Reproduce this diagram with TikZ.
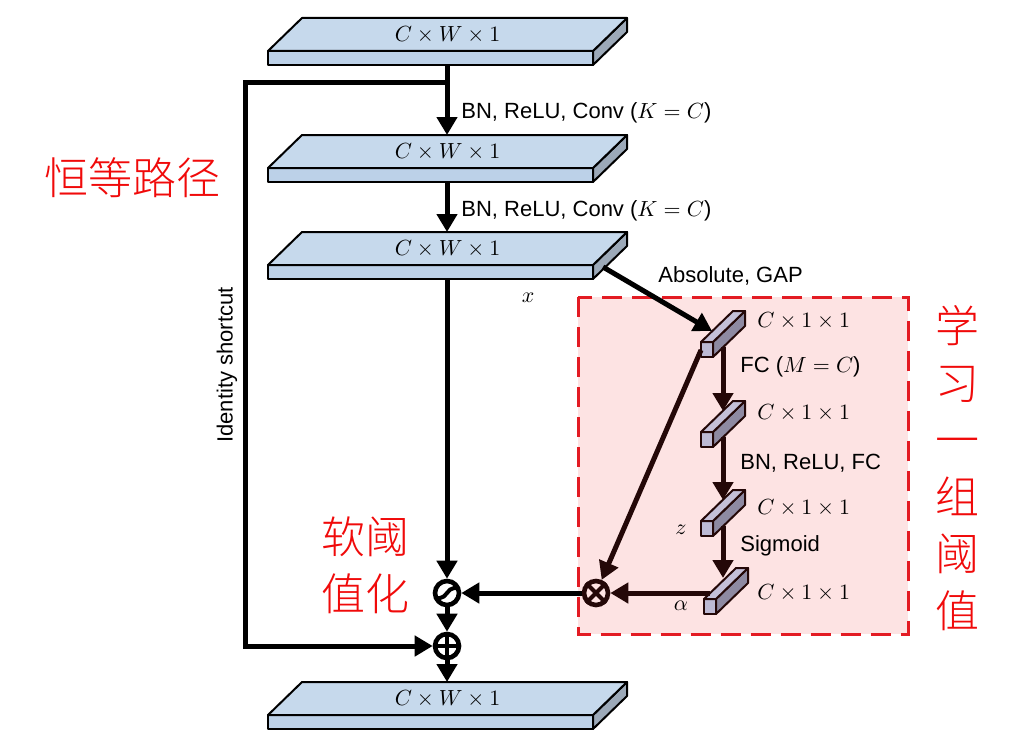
\documentclass[tikz,border=0pt]{standalone}
\usepackage[no-math]{fontspec}
\setmainfont{Liberation Sans}
\newfontfamily\cjk{Noto Sans CJK SC Light}
\usepackage{xcolor}
\usetikzlibrary{arrows.meta}

\definecolor{slabtopc}{HTML}{C6D9EC}
\definecolor{slabfrontc}{HTML}{BCD1E8}
\definecolor{slabsidec}{HTML}{9CA9B8}
\definecolor{bartopc}{HTML}{C4C0D8}
\definecolor{barfrontc}{HTML}{BDBAD4}
\definecolor{barsidec}{HTML}{8E8AA2}
\definecolor{barline}{HTML}{240808}
\definecolor{boxred}{HTML}{E31B23}
\definecolor{boxfill}{HTML}{FDE3E3}
\definecolor{cnred}{HTML}{F00A0A}

\tikzset{
  slabtop/.style={fill=slabtopc, draw=black, line width=1pt, line join=round},
  slabfront/.style={fill=slabfrontc, draw=black, line width=1pt, line join=round},
  slabside/.style={fill=slabsidec, draw=black, line width=1pt, line join=round},
  bartop/.style={fill=bartopc, draw=barline, line width=1pt, line join=round},
  barfront/.style={fill=barfrontc, draw=barline, line width=1pt, line join=round},
  barside/.style={fill=barsidec, draw=barline, line width=1pt, line join=round},
  flow/.style={line width=2.5pt, -{Triangle[length=9pt,width=10pt]}},
  op/.style={circle, draw, line width=2.3pt, minimum size=12pt, inner sep=0pt},
  lbl/.style={font=\fontsize{11}{13}\selectfont, anchor=west, inner sep=0pt},
  dim/.style={font=\fontsize{11}{13}\selectfont},
  cn/.style={text=cnred, font=\cjk\fontsize{22}{28.5}\selectfont, align=center},
}

% feature map slab: name, front top-left corner
\newcommand{\featslab}[3]{%
  \begin{scope}[shift={(#2,#3)}]
    \filldraw[slabside] (325,0) -- (359,-33) -- (359,-19) -- (325,14) -- cycle;
    \filldraw[slabfront] (0,0) rectangle (325,14);
    \filldraw[slabtop] (0,0) -- (325,0) -- (359,-33) -- (34,-33) -- cycle;
    \node[dim] (#1) at (179.5,-16.5) {$C\times W\times 1$};
    \coordinate (#1in) at (179,-33);
    \coordinate (#1out) at (179,14);
  \end{scope}}

% channel vector bar: name, front top-left corner
\newcommand{\featbar}[3]{%
  \begin{scope}[shift={(#2,#3)}]
    \filldraw[barside] (12,0) -- (44,-31) -- (44,-16) -- (12,15) -- cycle;
    \filldraw[barfront] (0,0) rectangle (12,15);
    \filldraw[bartop] (0,0) -- (12,0) -- (44,-31) -- (32,-31) -- cycle;
    \coordinate (#1in) at (22,-21);
    \coordinate (#1out) at (22,5);
    \coordinate (#1side) at (11,-11);
    \coordinate (#1left) at (0,8);
    \coordinate (#1top) at (6,-6);
  \end{scope}}

\begin{document}
\begin{tikzpicture}[x=0.5pt, y=-0.5pt]
  \useasboundingbox (0,0) rectangle (1020,738);

  % threshold learning box
  \draw[draw=boxred, fill=boxfill, line width=1.5pt, dash pattern=on 10pt off 5pt]
    (578,297) rectangle (908,634);

  \featslab{s1}{268}{51}
  \featslab{s2}{268}{168}
  \featslab{s3}{268}{265}
  \featslab{s4}{268}{715}

  \featbar{b1}{701}{342}
  \featbar{b2}{701}{432}
  \featbar{b3}{701}{521}
  \featbar{b4}{704}{599}

  \node[op] (soft) at (447,593) {};
  \draw[line width=2pt] (436,598) -- (440,598) .. controls (446,598) and (448,588) .. (454,588) -- (458,588);
  \node[op] (add) at (447,646) {};
  \draw[line width=2pt] (add.north) -- (add.south) (add.west) -- (add.east);
  \node[op, draw=barline] (mul) at (596,593) {};
  \draw[line width=2pt, barline] (mul.north west) -- (mul.south east) (mul.north east) -- (mul.south west);

  % main path
  \draw[flow] (s1out) -- (s2in);
  \draw[flow] (s2out) -- (s3in);
  \draw[flow] (s3out) -- (soft);
  \draw[flow] (soft) -- (add);
  \draw[flow] (add) -- (s4in);

  % identity shortcut
  \coordinate (split) at (447,83);
  \coordinate (skipA) at (245,83);
  \coordinate (skipB) at (245,646);
  \draw[flow] (split) -- (skipA) -- (skipB) -- (add);

  % threshold branch
  \coordinate (s3side) at (603,267);
  \draw[flow] (s3side) -- (b1side);
  \draw[flow, barline] (b1out) -- (b2in);
  \draw[flow, barline] (b2out) -- (b3in);
  \draw[flow, barline] (b3out) -- (b3out |- b4in);
  \draw[flow, barline] (b1left) -- (mul);
  \draw[flow, barline] (b4top) -- (mul);
  \draw[flow] (mul) -- (soft);

  % labels
  \node[lbl] (conv1) at (461,113) {BN, ReLU, Conv ($K=C$)};
  \node[lbl] (conv2) at (461,211) {BN, ReLU, Conv ($K=C$)};
  \node[lbl] (gap) at (658,276) {Absolute, GAP};
  \node[dim] (xlbl) at (528,298) {$x$};
  \node[lbl] (fc1) at (740,367) {FC ($M=C$)};
  \node[lbl] (fc2) at (740,463) {BN, ReLU, FC};
  \node[lbl] (sig) at (740,546) {Sigmoid};
  \node[dim] (zlbl) at (681,530) {$z$};
  \node[dim] (albl) at (681,606) {$\alpha$};
  \node[lbl] (d1) at (757,321) {$C\times 1\times 1$};
  \node[lbl] (d2) at (757,413) {$C\times 1\times 1$};
  \node[lbl] (d3) at (757,508) {$C\times 1\times 1$};
  \node[lbl] (d4) at (757,593) {$C\times 1\times 1$};
  \node[lbl, rotate=90, anchor=center] (idlbl) at (227,365) {Identity shortcut};

  \node[cn] (idpath) at (132,178) {恒等路径};
  \node[cn] (softth) at (365,565) {软阈\\值化};
  \node[cn] (learn) at (957,468) {学\\习\\一\\组\\阈\\值};
\end{tikzpicture}
\end{document}
